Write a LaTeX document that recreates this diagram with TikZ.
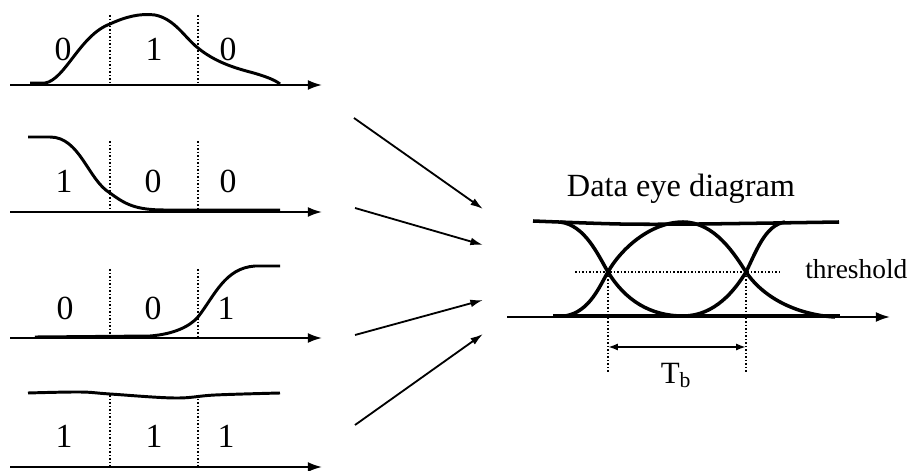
\documentclass[tikz,border=0pt]{standalone}
\usepackage{fontspec}
\setmainfont{Liberation Serif}
\usepackage{tikz}
\usetikzlibrary{arrows.meta}

\tikzset{
    wave/.style={line width=2.1pt, line join=round},
    eye/.style={line width=2.5pt, line join=round},
    axis/.style={line width=1.3pt, -{Latex[length=10pt,width=7pt]}},
    feed/.style={line width=1.3pt, -{Latex[length=9pt,width=5.5pt]}},
    bitline/.style={line width=1.3pt, dash pattern=on 1.1pt off 1.4pt},
    bit/.style={inner sep=0pt, font=\fontsize{24}{28}\selectfont}
}

\begin{document}
\begin{tikzpicture}[x=0.025cm, y=-0.025cm]
    \useasboundingbox (0,0) rectangle (911,471);

    % pattern 0 1 0
    \draw[axis] (10,85) -- (322,85);
    \draw[bitline] (110,15) -- (110,85);
    \draw[bitline] (198,15) -- (198,85);
    \draw[wave] (30,83) -- (45,83) .. controls (65,80) and (80,35) .. (110,24)
        .. controls (125,17) and (140,13) .. (155,15)
        .. controls (175,19) and (185,38) .. (198,48)
        .. controls (215,62) and (235,68) .. (250,72)
        .. controls (265,76) and (275,80) .. (280,84);
    \node[bit] (b11) at (63,49) {0};
    \node[bit] (b12) at (154,49) {1};
    \node[bit] (b13) at (228,49) {0};

    % pattern 1 0 0
    \draw[axis] (10,212) -- (322,212);
    \draw[bitline] (110,141) -- (110,212);
    \draw[bitline] (198,141) -- (198,212);
    \draw[wave] (28,137) -- (50,137) .. controls (80,137) and (88,180) .. (110,193)
        .. controls (125,204) and (135,210) .. (165,210) -- (280,210);
    \node[bit] (b21) at (64,181) {1};
    \node[bit] (b22) at (153,181) {0};
    \node[bit] (b23) at (228,181) {0};

    % pattern 0 0 1
    \draw[axis] (10,338) -- (322,338);
    \draw[bitline] (110,269) -- (110,338);
    \draw[bitline] (198,269) -- (198,338);
    \draw[wave] (35,337) -- (150,336) .. controls (175,334) and (190,326) .. (198,317)
        .. controls (215,295) and (225,268) .. (255,266) -- (280,266);
    \node[bit] (b31) at (65,308) {0};
    \node[bit] (b32) at (153,308) {0};
    \node[bit] (b33) at (226,308) {1};

    % pattern 1 1 1
    \draw[axis] (10,467) -- (322,467);
    \draw[bitline] (110,395) -- (110,467);
    \draw[bitline] (198,395) -- (198,467);
    \draw[wave] plot[smooth, tension=0.6] coordinates
        {(28,393) (80,392) (110,394) (175,398) (215,395) (280,393)};
    \node[bit] (b41) at (64,436) {1};
    \node[bit] (b42) at (154,436) {1};
    \node[bit] (b43) at (226,436) {1};

    % patterns fed into the eye
    \coordinate (s1) at (354,118);
    \coordinate (e1) at (483,209);
    \coordinate (s2) at (355,208);
    \coordinate (e2) at (483,245);
    \coordinate (s3) at (355,335);
    \coordinate (e3) at (483,300);
    \coordinate (s4) at (355,425);
    \coordinate (e4) at (483,334);
    \draw[feed] (s1) -- (e1);
    \draw[feed] (s2) -- (e2);
    \draw[feed] (s3) -- (e3);
    \draw[feed] (s4) -- (e4);

    % eye diagram
    \node[anchor=base, inner sep=0pt, font=\fontsize{23}{27}\selectfont]
        (title) at (681,197) {Data eye diagram};
    \draw[axis] (507,317) -- (890,317);
    \draw[eye] plot[smooth, tension=0.5] coordinates
        {(533,221) (620,224) (700,224) (839,222)};
    \draw[eye] (553,316) -- (840,316);
    \draw[eye] (560,222) .. controls (585,225) and (598,255) .. (608,272)
        .. controls (625,300) and (650,316) .. (683,316)
        .. controls (715,316) and (735,290) .. (746,272)
        .. controls (756,252) and (765,225) .. (785,222);
    \draw[eye] (565,316) .. controls (590,312) and (600,285) .. (608,272)
        .. controls (620,250) and (650,222) .. (683,222)
        .. controls (715,222) and (735,255) .. (746,272)
        .. controls (765,300) and (800,315) .. (835,317);
    \coordinate (xl) at (608,272);
    \coordinate (xr) at (746,272);
    \draw[bitline] (575,272) -- (780,272);
    \node[anchor=base west, inner sep=0pt, font=\fontsize{19.5}{23}\selectfont]
        (thr) at (805,278) {threshold};
    \coordinate (dl) at (608,372);
    \coordinate (dr) at (746,372);
    \draw[bitline] (xl) -- (dl);
    \draw[bitline] (xr) -- (dr);
    \coordinate (tl) at (608,347);
    \coordinate (tr) at (746,347);
    \draw[line width=1.3pt, {Latex[length=7pt,width=5pt]}-{Latex[length=7pt,width=5pt]}] (tl) -- (tr);
    \node[anchor=base, inner sep=0pt, font=\fontsize{22}{26}\selectfont]
        (tb) at (676,383) {T\textsubscript{b}};
\end{tikzpicture}
\end{document}
